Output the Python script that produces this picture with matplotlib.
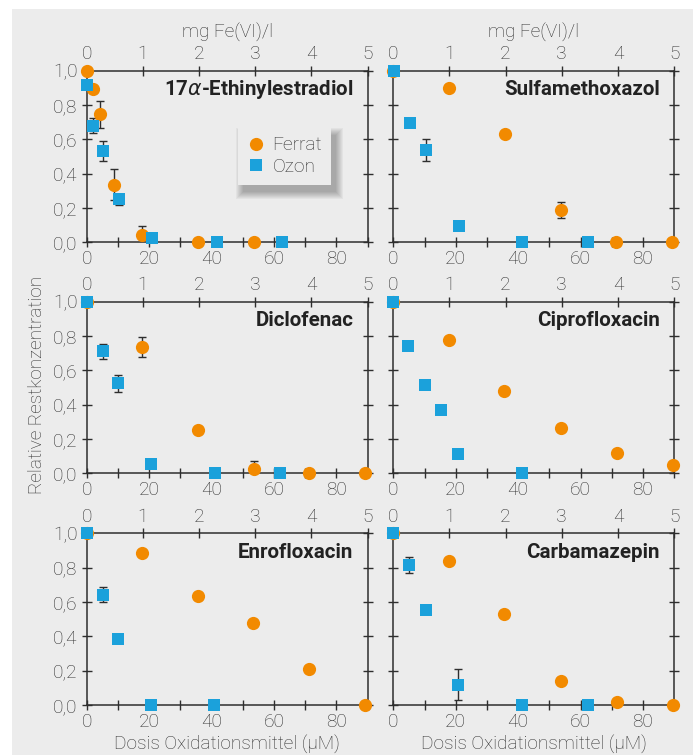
import numpy as np
import matplotlib
matplotlib.use("Agg")
import matplotlib.pyplot as plt
from matplotlib.patches import Rectangle
from matplotlib.transforms import IdentityTransform
from matplotlib.ticker import FuncFormatter, MultipleLocator

plt.rcParams['font.family'] = ['Roboto', 'DejaVu Sans']

ORANGE = '#f28a00'
BLUE = '#1ba1db'
BG = '#ececec'
DARK = '#2e2e2e'
TXT = '#2f2f2f'

# --- data (dose in µM, relative residual concentration) ---
titles = [r'17$\alpha$-Ethinylestradiol', 'Sulfamethoxazol', 'Diclofenac',
          'Ciprofloxacin', 'Enrofloxacin', 'Carbamazepin']

ferrat_x = [
    [0, 1.9, 4.3, 8.8, 17.8, 35.6, 53.5],
    [0, 18.0, 35.8, 53.6, 71.3, 89.3],
    [0, 17.7, 35.6, 53.6, 71.3, 89.2],
    [0, 17.8, 35.6, 53.6, 71.6, 89.5],
    [0, 17.7, 35.6, 53.4, 71.3, 89.2],
    [0, 17.7, 35.6, 53.6, 71.6, 89.5],
]
ferrat_y = [
    [1.0, 0.895, 0.746, 0.336, 0.043, 0.0, 0.0],
    [1.0, 0.90, 0.633, 0.188, 0.0, 0.0],
    [1.0, 0.735, 0.25, 0.027, 0.0, 0.0],
    [1.0, 0.777, 0.478, 0.266, 0.12, 0.049],
    [1.0, 0.887, 0.633, 0.48, 0.21, 0.0],
    [1.0, 0.84, 0.528, 0.138, 0.016, 0.0],
]
ferrat_err = [
    [0, 0, 0.08, 0.09, 0.05, 0, 0],
    [0, 0.01, 0, 0.045, 0, 0],
    [0, 0.06, 0, 0.045, 0, 0],
    [0, 0, 0, 0, 0, 0],
    [0, 0, 0, 0, 0, 0],
    [0, 0, 0, 0, 0, 0],
]

ozon_x = [
    [0, 2.1, 5.3, 10.5, 20.8, 41.8, 62.6],
    [0.2, 5.5, 10.6, 20.9, 41.4, 62.3],
    [0, 5.1, 10.1, 20.5, 41.1, 62.0],
    [0, 4.8, 10.0, 15.4, 20.6, 41.4],
    [0, 5.1, 10.1, 20.5, 40.9],
    [0, 5.1, 10.4, 20.6, 41.4, 62.3],
]
ozon_y = [
    [0.918, 0.68, 0.532, 0.25, 0.025, 0.0, 0.0],
    [1.0, 0.693, 0.536, 0.093, 0.0, 0.0],
    [1.0, 0.711, 0.524, 0.054, 0.0, 0.0],
    [1.0, 0.74, 0.513, 0.367, 0.11, 0.0],
    [1.0, 0.643, 0.383, 0.0, 0.0],
    [1.0, 0.814, 0.553, 0.118, 0.0, 0.0],
]
ozon_err = [
    [0, 0.045, 0.06, 0.03, 0.03, 0, 0],
    [0, 0, 0.065, 0.02, 0, 0],
    [0, 0.045, 0.05, 0.02, 0, 0],
    [0, 0, 0, 0, 0, 0],
    [0, 0.045, 0, 0, 0],
    [0, 0.045, 0, 0.09, 0, 0],
]

fig = plt.figure(figsize=(6.95, 7.55), dpi=100)
fig.patch.set_facecolor('white')
fig.patches.append(Rectangle((12 / 695, 0), 681 / 695, 746 / 755,
                             transform=fig.transFigure, facecolor=BG,
                             edgecolor='none', zorder=-10))

W = 695.0
H = 755.0
col_x = [86.7, 393.3]
row_top = [70.7, 301.7, 533.3]
aw, ah = 280.8, 171.6
FS = 13.8

comma = FuncFormatter(lambda v, p: f"{v:.1f}".replace('.', ','))

leg = None
leg_ax = None
for i in range(6):
    r, c = divmod(i, 2)
    ax = fig.add_axes([col_x[c] / W, (H - row_top[r] - ah) / H, aw / W, ah / H])
    ax.set_facecolor(BG)
    ax.set_xlim(0, 90)
    ax.set_ylim(0, 1.0)
    for s in ax.spines.values():
        s.set_color(DARK)
        s.set_linewidth(1.1)

    ax.xaxis.set_major_locator(MultipleLocator(20))
    ax.xaxis.set_minor_locator(MultipleLocator(10))
    ax.yaxis.set_major_locator(MultipleLocator(0.2))
    ax.yaxis.set_major_formatter(comma)
    ax.tick_params(axis='both', which='both', direction='inout', colors=DARK,
                   labelcolor=TXT, labelsize=FS, width=1.0)
    ax.tick_params(axis='x', which='major', length=7, pad=2)
    ax.tick_params(axis='x', which='minor', length=7)
    ax.tick_params(axis='y', length=7, right=True, pad=3)
    if c == 1:
        ax.tick_params(axis='y', labelleft=False)
    for t in ax.get_xticklabels() + ax.get_yticklabels():
        t.set_fontweight('light')

    sec = ax.secondary_xaxis('top', functions=(lambda x: x / 18.0, lambda x: x * 18.0))
    sec.set_xticks([0, 1, 2, 3, 4, 5])
    sec.tick_params(direction='inout', length=7, colors=DARK, labelcolor=TXT,
                    labelsize=FS, pad=2, width=1.0)
    sec.spines['top'].set_visible(False)
    for t in sec.get_xticklabels():
        t.set_fontweight('light')

    ax.errorbar(ferrat_x[i], ferrat_y[i], yerr=ferrat_err[i], fmt='none',
                ecolor=DARK, elinewidth=1.0, capsize=3, capthick=1.0, zorder=2)
    ax.errorbar(ozon_x[i], ozon_y[i], yerr=ozon_err[i], fmt='none',
                ecolor=DARK, elinewidth=1.0, capsize=3, capthick=1.0, zorder=2)
    ax.plot(ferrat_x[i], ferrat_y[i], 'o', color=ORANGE, markersize=9.5,
            markeredgewidth=0, clip_on=False, zorder=3, label='Ferrat')
    ax.plot(ozon_x[i], ozon_y[i], 's', color=BLUE, markersize=8.5,
            markeredgewidth=0, clip_on=False, zorder=4, label='Ozon')

    ax.text(0.95, 0.888, titles[i], transform=ax.transAxes, ha='right',
            va='center', fontsize=14.8, fontweight='bold', color='#222222')

    if r == 0:
        fig.text((col_x[c] + aw / 2) / W, 1 - 32 / H, 'mg Fe(VI)/l',
                 ha='center', va='center', fontsize=13.6, color=TXT,
                 fontweight='light')
    if r == 2:
        fig.text((col_x[c] + aw / 2) / W, 1 - 744 / H,
                 'Dosis Oxidationsmittel (µM)', ha='center', va='center',
                 fontsize=13.7, color=TXT, fontweight='light')

    if i == 0:
        leg = ax.legend(loc='upper left', bbox_to_anchor=(0.538, 0.668),
                        frameon=True, fancybox=False,
                        facecolor=BG, edgecolor='none', framealpha=1,
                        fontsize=FS, handletextpad=0.35, borderpad=0.45,
                        labelspacing=0.2, handlelength=1.0, borderaxespad=0)
        for t in leg.get_texts():
            t.set_color(TXT)
            t.set_fontweight('light')
        leg.set_zorder(10)
        leg_ax = ax

fig.text(37 / W, 1 - 385 / H, 'Relative Restkonzentration', rotation=90,
         ha='center', va='center', fontsize=13.7, color=TXT, fontweight='light')

# soft drop shadow behind the legend box (mostly bottom/right)
fig.canvas.draw()
bb = leg.get_frame().get_window_extent()
for k in range(8):
    g = k + 1
    leg_ax.add_patch(Rectangle((bb.x0 + 6 - g, bb.y0 - 6 - g),
                               bb.width - 2 + 2 * g, bb.height - 2 + 2 * g,
                               transform=IdentityTransform(), facecolor='black',
                               edgecolor='none', alpha=0.04, zorder=9,
                               clip_on=False))

fig.savefig('out.png', dpi=100)
